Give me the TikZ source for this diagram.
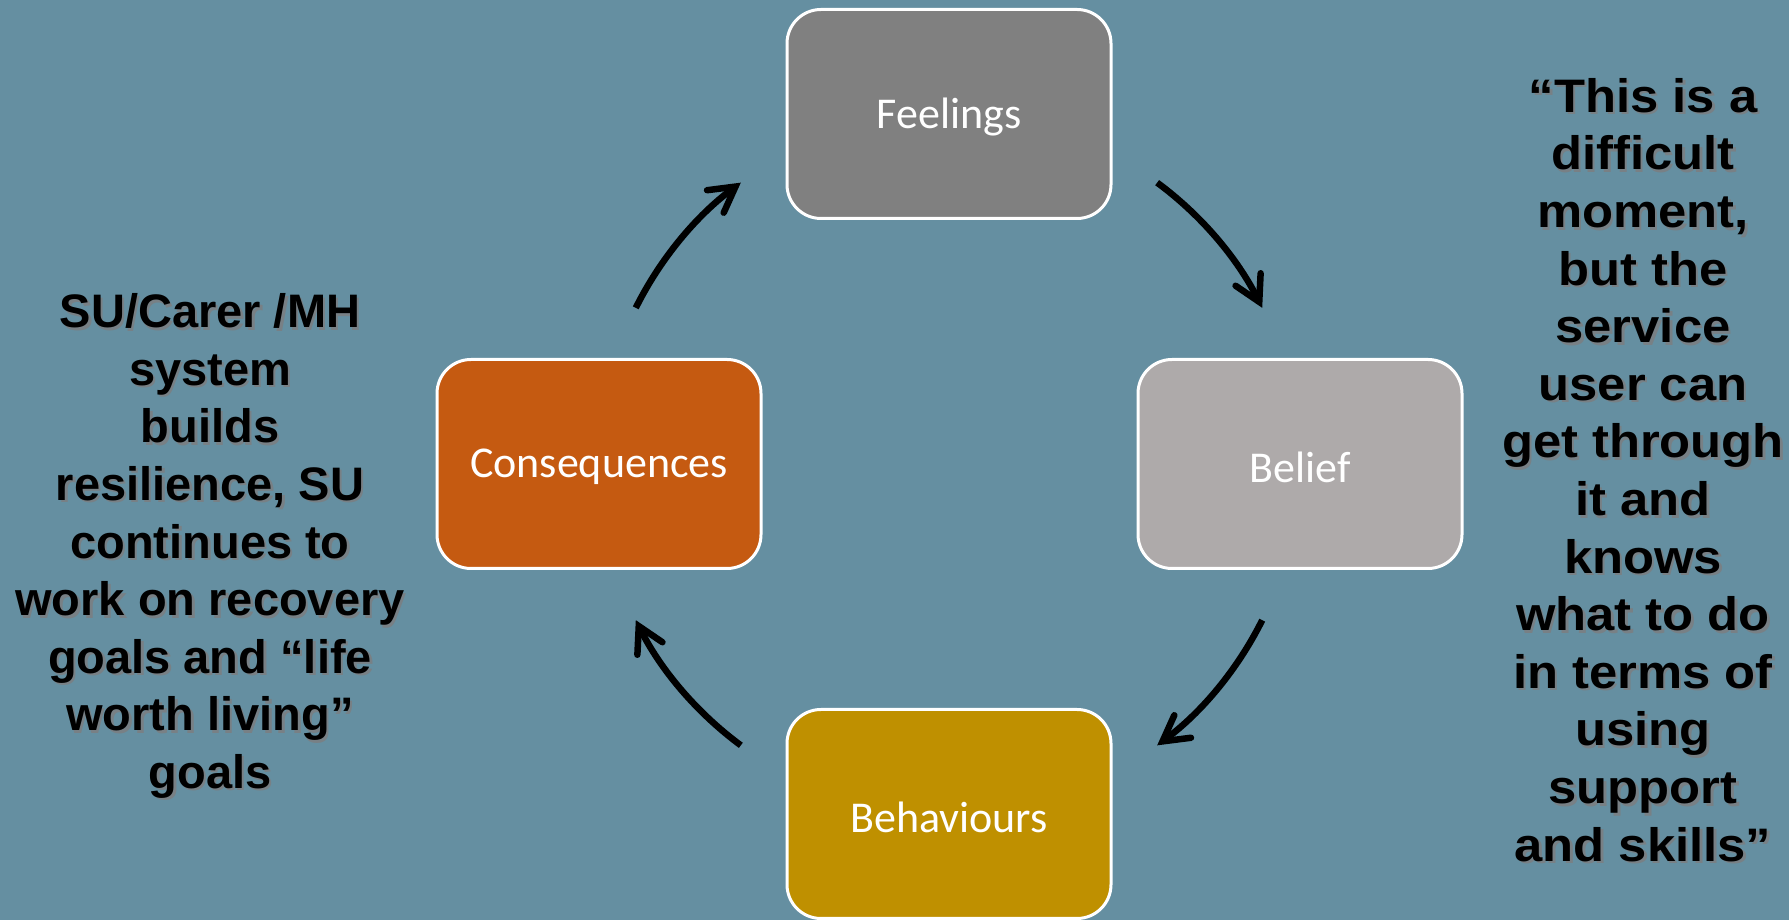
\documentclass[tikz,border=0pt]{standalone}
\usepackage{fontspec}
\setmainfont{Carlito}
\newfontfamily\sidefont{Liberation Sans}
\newfontfamily\widesidefont{Liberation Sans}[FakeStretch=1.08]
\usetikzlibrary{arrows.meta,calc}

\definecolor{slate}{RGB}{101,143,161}
\definecolor{feelgray}{RGB}{128,128,128}
\definecolor{beliefgray}{RGB}{174,170,170}
\definecolor{conorange}{RGB}{197,90,17}
\definecolor{behgold}{RGB}{191,144,0}
\definecolor{textshade}{RGB}{120,128,133}

% stage caption, set a little low in its box
\newcommand{\stagecaption}[1]{\raisebox{-3pt}[\height][\depth]{#1}}

\begin{document}
\begin{tikzpicture}[x=1pt,y=1pt,
  stage/.style={draw=white, line width=3pt, rounded corners=34pt,
    minimum width=324pt, minimum height=209pt, inner sep=0pt,
    text=white, font=\fontsize{44}{53}\selectfont},
  cyclearrow/.style={line width=6.5pt, line cap=butt,
    -{Straight Barb[length=25pt,width=28pt,line cap=round]}},
  side/.style={align=center, inner sep=0pt,
    font=\sidefont\bfseries\fontsize{47}{57.6}\selectfont},
  sidewide/.style={align=center, inner sep=0pt,
    font=\widesidefont\bfseries\fontsize{47}{57.6}\selectfont},
]
% background
\fill[slate] (0,0) rectangle (1789,920);
\useasboundingbox (0,0) rectangle (1789,920);

% the four stages of the cycle
\node[stage, fill=feelgray]   (feel)   at (949,806) {\stagecaption{Feelings}};
\node[stage, fill=beliefgray] (belief) at (1300,456) {\stagecaption{Belief}};
\node[stage, fill=conorange]  (conseq) at (599,456) {\stagecaption{Consequences}};
\node[stage, fill=behgold]    (behav)  at (949,106) {\stagecaption{Behaviours}};

% curved arrows on a circle round the middle
\coordinate (hub) at (949,456);
\coordinate (a1) at ($(hub)+(153.5:350)$);
\coordinate (a2) at ($(hub)+(53.5:350)$);
\coordinate (a3) at ($(hub)+(-26.5:350)$);
\coordinate (a4) at ($(hub)+(233.5:350)$);
\draw[cyclearrow] (a1) arc[start angle=153.5, end angle=126.5, radius=350];
\draw[cyclearrow] (a2) arc[start angle=53.5, end angle=26.5, radius=350];
\draw[cyclearrow] (a3) arc[start angle=-26.5, end angle=-53.5, radius=350];
\draw[cyclearrow] (a4) arc[start angle=233.5, end angle=206.5, radius=350];

% left note with its shadow
\node[side, text=textshade] (leftshade) at (212.5,371.5) {SU/Carer /MH\\system\\builds\\resilience, SU\\continues to\\work on recovery\\goals and “life\\worth living”\\goals};
\node[side] (leftnote) at (210,374) {SU/Carer /MH\\system\\builds\\resilience, SU\\continues to\\work on recovery\\goals and “life\\worth living”\\goals};

% right note with its shadow
\node[sidewide, text=textshade] (rightshade) at (1645.5,447.5) {“This is a\\difficult\\moment,\\but the\\service\\user can\\get through\\it and\\knows\\what to do\\in terms of\\using\\support\\and skills”};
\node[sidewide] (rightnote) at (1643,450) {“This is a\\difficult\\moment,\\but the\\service\\user can\\get through\\it and\\knows\\what to do\\in terms of\\using\\support\\and skills”};
\end{tikzpicture}
\end{document}
